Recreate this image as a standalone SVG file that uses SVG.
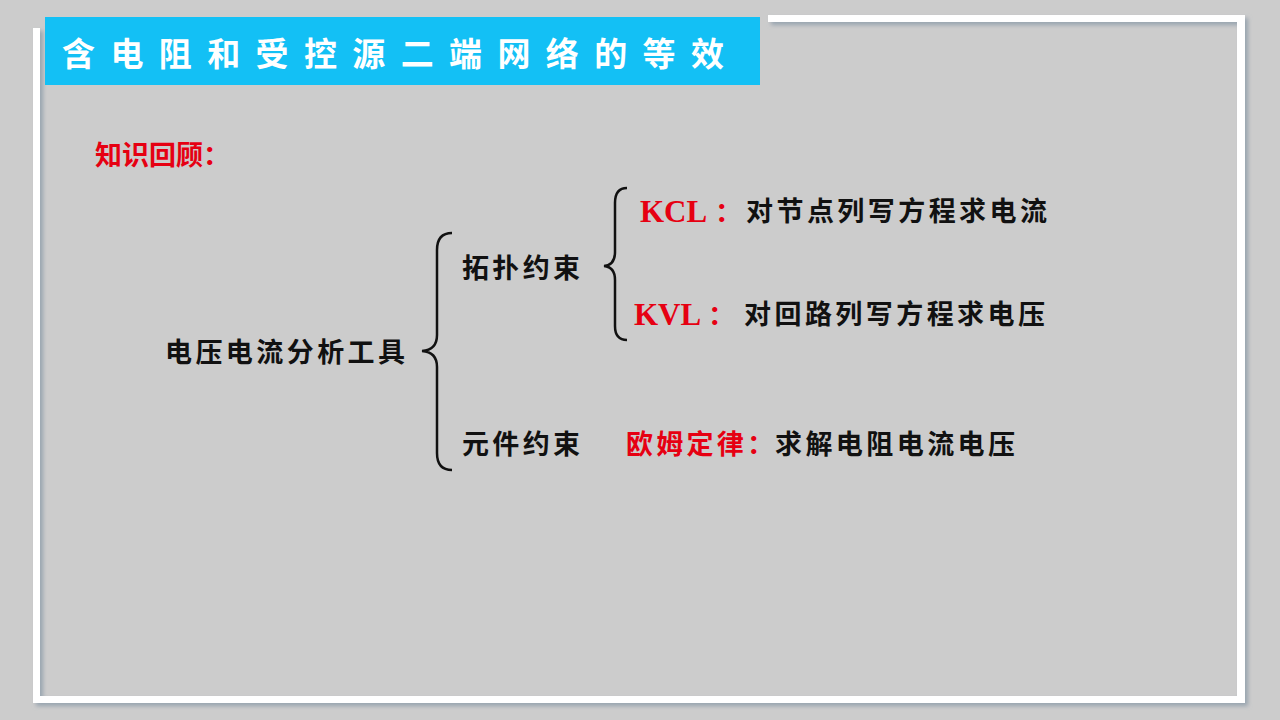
<svg xmlns="http://www.w3.org/2000/svg" width="1280" height="720" viewBox="0 0 1280 720">
<defs><filter id="sh"><feDropShadow dx="3" dy="3" stdDeviation="2" flood-color="#8a9aa8" flood-opacity="0.8"/></filter></defs>
<style>
.t{font-family:"Noto Sans CJK SC",sans-serif;font-size:27px;font-weight:bold;fill:#111}
.r{fill:#e60012}
.k{font-family:"Liberation Serif","Noto Sans CJK SC",serif;font-size:31px;font-weight:bold;fill:#e60012}
.br{fill:none;stroke:#111;stroke-width:2.5}
</style>
<rect width="1280" height="720" fill="#cccccc"/>
<g id="frame" filter="url(#sh)" fill="#fff">
<rect x="768" y="15" width="477" height="7"/>
<rect x="1237" y="15" width="8" height="688"/>
<rect x="33" y="696" width="1212" height="7"/>
<rect x="33" y="28" width="7" height="675"/>
</g>
<g id="title">
<rect x="45" y="17" width="715" height="68" fill="#13c0f5"/>
<text x="62" y="66" font-family="Noto Sans CJK SC,sans-serif" font-size="33" font-weight="bold" fill="#fff" textLength="662" lengthAdjust="spacing">含电阻和受控源二端网络的等效</text>
</g>
<text id="review" x="95" y="165" class="t r" font-size="25" textLength="135" lengthAdjust="spacing">知识回顾：</text>
<g id="root"><text x="165" y="362" class="t" textLength="240" lengthAdjust="spacing">电压电流分析工具</text></g>
<g id="connectors">
<path class="br" d="M452,233 Q437,233 437,250 L437,335 Q437,350 422,351 Q437,352 437,367 L437,453 Q437,470 452,470"/>
<path class="br" d="M627,188 Q615,188 615,203 L615,252 Q615,265 604,266 Q615,267 615,280 L615,326 Q615,340 627,340"/>
</g>
<g id="topo"><text x="462" y="278" class="t" textLength="118" lengthAdjust="spacing">拓扑约束</text></g>
<g id="kcl"><text x="640" y="222" class="k">KCL</text><text x="715" y="222" class="t r">：</text><text x="746" y="221" class="t" textLength="301" lengthAdjust="spacing">对节点列写方程求电流</text></g>
<g id="kvl"><text x="634" y="325" class="k">KVL</text><text x="708" y="325" class="t r">：</text><text x="744" y="324" class="t" textLength="301" lengthAdjust="spacing">对回路列写方程求电压</text></g>
<g id="elem"><text x="462" y="454" class="t" textLength="118" lengthAdjust="spacing">元件约束</text></g>
<g id="ohm"><text x="626" y="454" class="t r" textLength="148" lengthAdjust="spacing">欧姆定律：</text><text x="775" y="454" class="t" textLength="240" lengthAdjust="spacing">求解电阻电流电压</text></g>
</svg>
